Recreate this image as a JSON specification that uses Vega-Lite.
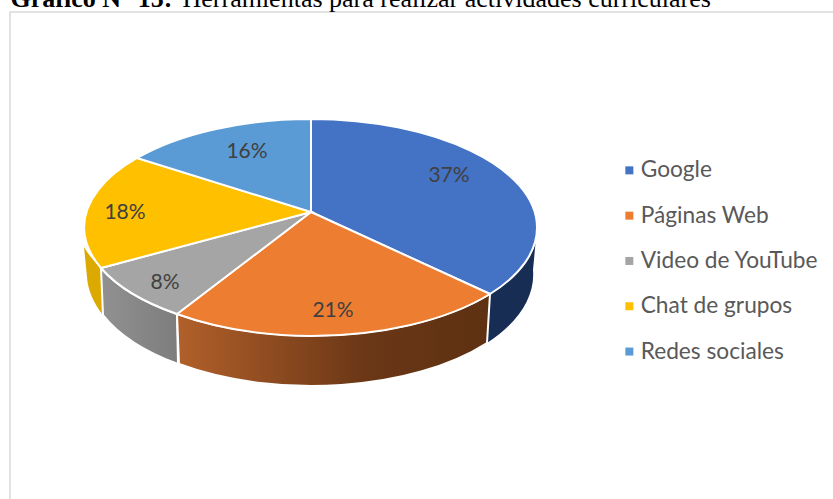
{
"$schema":"https://vega.github.io/schema/vega-lite/v6.json",
"width":824,"height":488,
"autosize":{"type":"none"},
"padding":{"left":10,"top":12,"right":-1,"bottom":-1},
"background":"white",
"view":{"stroke":"#d9d9d9","strokeWidth":1.5,"fill":"white"},
"data":{"values":[
{"herramienta":"Google","porcentaje":37,"etiqueta":"37%"},
{"herramienta":"Páginas Web","porcentaje":21,"etiqueta":"21%"},
{"herramienta":"Video de YouTube","porcentaje":8,"etiqueta":"8%"},
{"herramienta":"Chat de grupos","porcentaje":18,"etiqueta":"18%"},
{"herramienta":"Redes sociales","porcentaje":16,"etiqueta":"16%"}
]},
"layer":[
{"transform":[{"filter":"datum.herramienta==='Google'"}],
 "mark":{"type":"point","filled":true,"opacity":1,"size":4,"fill":"#172d54","stroke":null,"shape":"M113.5,-13 A226.5,108.5 0 0 1 68,38 L65,87 A223,112 0 0 0 111,14 Z"}},
{"transform":[{"filter":"datum.herramienta==='Chat de grupos'"}],
 "mark":{"type":"point","filled":true,"opacity":1,"size":4,"fill":"#dba900","stroke":null,"shape":"M-338,-9 A226.5,108.5 0 0 0 -321,12 L-319,59 A223,112 0 0 1 -335,21 Z"}},
{"transform":[{"filter":"datum.herramienta==='Video de YouTube'"}],
 "mark":{"type":"point","filled":true,"opacity":1,"size":4,"stroke":"white","strokeWidth":2,
  "fill":{"gradient":"linear","x1":0,"y1":0,"x2":1,"y2":0,"stops":[{"offset":0,"color":"#919191"},{"offset":1,"color":"#7d7d7d"}]},
  "shape":"M-245,58 A226.5,108.5 0 0 1 -321,12 L-319,59 A223,112 0 0 0 -244,108 Z"}},
{"transform":[{"filter":"datum.herramienta==='Páginas Web'"}],
 "mark":{"type":"point","filled":true,"opacity":1,"size":4,"stroke":"white","strokeWidth":2,
  "fill":{"gradient":"linear","x1":0,"y1":0,"x2":1,"y2":0,"stops":[{"offset":0,"color":"#b1602a"},{"offset":0.6,"color":"#6b3716"},{"offset":1,"color":"#5d3112"}]},
  "shape":"M68,38 A226.5,108.5 0 0 1 -245,58 L-243,108 A223,112 0 0 0 65,87 Z"}},
{"mark":{"type":"point","filled":true,"opacity":1,"size":4,"stroke":"white","strokeWidth":2},
 "encoding":{
  "shape":{"field":"etiqueta","type":"nominal","legend":null,"scale":{
    "domain":["37%","21%","8%","18%","16%"],
    "range":[
     "M-111,-44 L-111,-137 A226.5,108.5 0 0 1 115,-28.5 A226.5,108.5 0 0 1 68,38 Z",
     "M-111,-44 L68,38 A226.5,108.5 0 0 1 -111.5,80 A226.5,108.5 0 0 1 -245,58 Z",
     "M-111,-44 L-245,58 A226.5,108.5 0 0 1 -321,12 Z",
     "M-111,-44 L-321,12 A226.5,108.5 0 0 1 -338,-28.5 A226.5,108.5 0 0 1 -285,-98 Z",
     "M-111,-44 L-285,-98 A226.5,108.5 0 0 1 -111,-137 Z"]}},
  "color":{"field":"herramienta","type":"nominal","scale":{
    "domain":["Google","Páginas Web","Video de YouTube","Chat de grupos","Redes sociales"],
    "range":["#4472c4","#ed7d31","#a5a5a5","#ffc000","#5b9bd5"]},
   "legend":{"title":null,"orient":"none","legendX":608,"legendY":147,"symbolType":"square","symbolSize":64,"symbolStrokeWidth":0,"labelFont":"Lato","labelFontSize":22.7,"labelColor":"#595959","labelLimit":300,"labelOffset":0,"rowPadding":21.3}}
 }},
{"mark":{"type":"text","font":"Lato","fontSize":21,"color":"#404040"},
 "encoding":{
  "x":{"field":"porcentaje","type":"quantitative","scale":{"domain":[8,16,18,21,37],"range":[155,237,115,323,439],"nice":false,"zero":false},
    "axis":{"orient":"top","title":"Herramientas para realizar actividades curriculares","titleFont":"Liberation Serif","titleFontSize":26,"titleFontWeight":"normal","titleColor":"black","titleAlign":"left","titleBaseline":"alphabetic","titleX":172,"titleY":-6,"labels":false,"ticks":false,"domain":false,"grid":false}},
  "y":{"field":"porcentaje","type":"quantitative","scale":{"domain":[8,16,18,21,37],"range":[271,140,201,299,164],"nice":false,"zero":false},
    "axis":{"orient":"left","title":"Gráfico N° 15:","titleFont":"Liberation Serif","titleFontSize":26,"titleFontWeight":"bold","titleColor":"black","titleAngle":0,"titleAlign":"left","titleBaseline":"alphabetic","titleX":0,"titleY":-6,"labels":false,"ticks":false,"domain":false,"grid":false}},
  "text":{"field":"etiqueta","type":"nominal"}
 }}
]
}
